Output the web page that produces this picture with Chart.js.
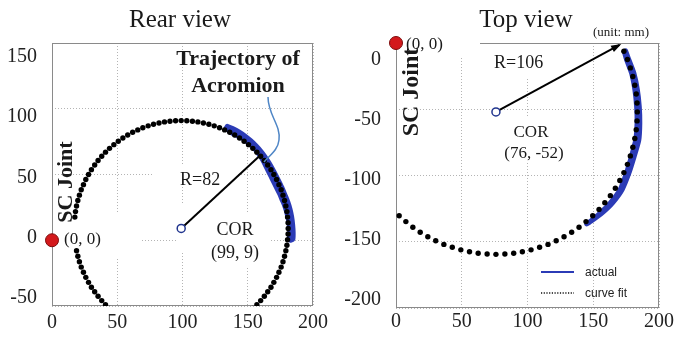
<!DOCTYPE html>
<html><head><meta charset="utf-8">
<script src="https://cdn.jsdelivr.net/npm/chart.js@4.4.1/dist/chart.umd.min.js"></script>
<style>
html,body{margin:0;padding:0;background:#fff;}
#wrap{position:relative;width:676px;height:338px;overflow:hidden;background:#fff;}
canvas{position:absolute;top:0;}
#c1{left:0;} #c2{left:338px;}
</style></head><body>
<div id="wrap"><canvas id="c1" width="338" height="338"></canvas><canvas id="c2" width="338" height="338"></canvas></div>
<script>
// ---------- data ----------
const xTicks = [0, 50, 100, 150, 200];
const rearYTicks = [-50, 0, 50, 100, 150];
const topYTicks = [-200, -150, -100, -50, 0];

const scJoint = [0, 0];
const rearCOR = [99, 9];
const rearRadiusEnd = [159, 64];
const topCOR = [76, -52];
const topRadiusEnd = [170, -1.5];

const rearFitPoints = [[44.1,-51.9],[41.0,-49.0],[38.1,-45.9],[35.3,-42.6],[32.7,-39.2],[30.2,-35.7],[28.0,-32.0],[25.9,-28.2],[24.1,-24.3],[22.4,-20.4],[21.0,-16.3],[19.8,-12.2],[18.8,-8.0],
[17.5,17.6],[18.0,21.8],[18.8,26.0],[19.8,30.2],[21.0,34.3],[22.4,38.4],[24.1,42.3],[25.9,46.2],[28.0,50.0],[30.2,53.7],[32.7,57.2],[35.3,60.6],[38.1,63.9],[41.0,67.0],[44.1,69.9],[47.4,72.7],[50.8,75.3],[54.3,77.8],[58.0,80.0],[61.8,82.1],[65.7,83.9],[69.6,85.6],[73.7,87.0],[77.8,88.2],[82.0,89.2],[86.2,90.0],[90.4,90.5],[94.7,90.9],[99.0,91.0],[103.3,90.9],[107.6,90.5],[111.8,90.0],[116.0,89.2],[120.2,88.2],[124.3,87.0],[128.4,85.6],[132.3,83.9],[136.2,82.1],[140.0,80.0],[143.7,77.8],[147.2,75.3],[150.6,72.7],[153.9,69.9],[157.0,67.0],[159.9,63.9],[162.7,60.6],[165.3,57.2],[167.8,53.7],[170.0,50.0],[172.1,46.2],[173.9,42.3],[175.6,38.4],[177.0,34.3],[178.2,30.2],[179.2,26.0],[180.0,21.8],[180.5,17.6],[180.9,13.3],[181.0,9.0],[180.9,4.7],[180.5,0.4],[180.0,-3.8],[179.2,-8.0],[178.2,-12.2],[177.0,-16.3],[175.6,-20.4],[173.9,-24.3],[172.1,-28.2],[170.0,-32.0],[167.8,-35.7],[165.3,-39.2],[162.7,-42.6],[159.9,-45.9],[157.0,-49.0],[153.9,-51.9]];

const rearActualPoints = [[133.9,85.2],[137.7,82.1],[142.0,79.9],[146.6,77.6],[150.5,74.5],[154.3,71.2],[157.0,68.2],[159.4,64.9],[161.5,61.8],[163.2,58.6],[165.1,54.8],[167.0,51.0],[169.0,47.1],[170.9,43.3],[172.8,39.5],[174.7,35.7],[176.6,31.2],[178.5,26.8],[180.0,22.3],[181.1,17.9],[182.0,13.6],[182.4,9.4],[182.6,5.5],[182.3,0.5],
[184.2,1.0],[184.4,6.0],[184.0,12.0],[183.2,18.0],[182.0,23.5],[180.3,29.0],[178.3,34.0],[176.2,39.0],[173.8,44.0],[171.3,49.0],[168.6,54.0],[165.8,58.8],[162.8,63.4],[159.6,67.6],[156.0,71.6],[152.0,75.4],[147.8,78.8],[143.0,82.0],[138.2,84.6],[134.5,86.2]];

const topFitPoints = [[173.3,-6.2],[176.0,-12.4],[178.2,-18.8],[180.1,-25.3],[181.6,-31.9],[182.7,-38.5],[183.3,-45.3],[183.5,-52.0],[183.3,-58.8],[182.7,-65.5],[181.6,-72.1],[180.1,-78.7],[178.2,-85.2],[176.0,-91.6],[173.3,-97.8],[170.2,-103.8],[166.8,-109.6],[163.0,-115.2],[158.8,-120.5],[154.4,-125.6],[149.6,-130.4],[144.5,-134.8],[139.2,-139.0],[133.6,-142.8],[127.8,-146.2],[121.8,-149.3],[115.6,-152.0],[109.2,-154.2],[102.7,-156.1],[96.1,-157.6],[89.5,-158.7],[82.8,-159.3],[76.0,-159.5],[69.3,-159.3],[62.5,-158.7],[55.9,-157.6],[49.3,-156.1],[42.8,-154.2],[36.4,-152.0],[30.2,-149.3],[24.2,-146.2],[18.4,-142.8],[12.8,-139.0],[7.5,-134.8],[2.4,-130.4]];

const topActualPoints = [[173.6,-6.5],[175.4,-12.8],[179.2,-22.9],[181.7,-35.5],[183.0,-48.1],[183.3,-60.6],[182.3,-73.2],[179.0,-85.8],[175.2,-98.3],[170.3,-110.9],[162.7,-121.0],[155.1,-128.5],[147.5,-134.9],[145.0,-136.6],
[145.5,-136.2],[149.0,-134.0],[157.0,-128.0],[164.5,-120.8],[172.0,-110.5],[177.0,-98.5],[181.0,-86.0],[184.6,-73.5],[185.4,-60.5],[185.0,-48.0],[183.5,-35.0],[180.8,-22.5],[176.8,-12.0],[174.6,-6.0]];

// ---------- helpers ----------
const SERIF = '"Liberation Serif", "Times New Roman", serif';
Chart.defaults.font.family = SERIF;
const toXY = arr => arr.map(p => ({x: p[0], y: p[1]}));
const GRID = '#b4b4b4';
const TXT = '#1a1a1a';

function txt(ctx, s, x, y, font, align, color) {
  ctx.font = font; ctx.textAlign = align || 'left'; ctx.textBaseline = 'alphabetic';
  ctx.fillStyle = color || TXT; ctx.fillText(s, x, y);
}
function vtxt(ctx, s, x, y, font) {
  ctx.save(); ctx.translate(x, y); ctx.rotate(-Math.PI / 2);
  txt(ctx, s, 0, 0, font, 'center'); ctx.restore();
}

function annotPlugin(masks, draw) {
  return {
    id: 'annot',
    beforeDatasetsDraw(chart) {
      const ctx = chart.ctx, a = chart.chartArea;
      ctx.save();
      ctx.strokeStyle = '#8a8a8a'; ctx.lineWidth = 1;
      ctx.strokeRect(Math.round(a.left) + 0.5, Math.round(a.top) + 0.5, Math.round(a.right - a.left) - 1, Math.round(a.bottom - a.top) - 1);
      ctx.fillStyle = '#fff';
      masks.forEach(m => ctx.fillRect(m[0], m[1], m[2], m[3]));
      ctx.restore();
    },
    afterDatasetsDraw(chart) { const ctx = chart.ctx; ctx.save(); draw(chart, ctx); ctx.restore(); }
  };
}

function makeScales(yMin, yMax, yTicks, lblMin, lblMax, yW, xH, xPad) {
  const tickFont = {family: SERIF, size: 20};
  return {
    x: {type: 'linear', min: 0, max: 200,
        afterBuildTicks: s => { s.ticks = xTicks.map(v => ({value: v})); },
        grid: {color: GRID, drawTicks: false, lineWidth: 1},
        border: {display: false, dash: [1, 2]},
        ticks: {font: tickFont, color: '#222', padding: xPad},
        afterFit: s => { s.height = xH; }},
    y: {type: 'linear', position: 'left', weight: 0, min: yMin, max: yMax,
        afterBuildTicks: s => { s.ticks = yTicks.map(v => ({value: v})); },
        grid: {color: GRID, drawTicks: false, lineWidth: 1},
        border: {display: false, dash: [1, 2]},
        ticks: {display: false},
        afterFit: s => { s.width = 0; }},
    yl: {type: 'linear', position: 'left', weight: 1, min: lblMin, max: lblMax,
        afterBuildTicks: s => { s.ticks = yTicks.map(v => ({value: v})); },
        grid: {display: false}, border: {display: false},
        ticks: {font: tickFont, color: '#222', padding: 7},
        afterFit: s => { s.width = yW; }}
  };
}

function makeDatasets(fit, actual, cor, rEnd, bandW) {
  const base = {xAxisID: 'x', yAxisID: 'y'};
  return [
    Object.assign({label: 'SC joint', data: toXY([scJoint]), pointRadius: 6.5, backgroundColor: '#d3191c', borderColor: '#7d0c0c', borderWidth: 1, clip: false, order: 0}, base),
    Object.assign({label: 'COR', data: toXY([cor]), pointRadius: 4, backgroundColor: '#ffffff', borderColor: '#22368f', borderWidth: 1.5, clip: false, order: 1}, base),
    Object.assign({label: 'curve fit', data: toXY(fit), pointRadius: 2.7, backgroundColor: '#000', borderWidth: 0, clip: 0, order: 2}, base),
    Object.assign({label: 'radius', data: toXY([cor, rEnd]), showLine: true, borderColor: '#000', borderWidth: 2, pointRadius: 0, clip: false, order: 3}, base),
    Object.assign({label: 'actual', data: toXY(actual), showLine: true, borderColor: '#2b3bb6', borderWidth: bandW, pointRadius: 0, tension: 0.2, borderJoinStyle: 'round', borderCapStyle: 'round', clip: 0, order: 4}, base)
  ];
}

const common = {responsive: false, animation: false, events: [],
  plugins: {legend: {display: false}, tooltip: {enabled: false}, title: {display: false}}};

// ---------- Rear view ----------
new Chart(document.getElementById('c1'), {
  type: 'scatter',
  data: {datasets: makeDatasets(rearFitPoints, rearActualPoints, rearCOR, rearRadiusEnd, 6)},
  options: Object.assign({}, common, {
    layout: {padding: {left: 0, right: 25, top: 43, bottom: 0}},
    scales: makeScales(-50, 150, rearYTicks, -56.6, 161.6, 52, 32, 5)
  }),
  plugins: [annotPlugin(
    [[56, 213, 84, 44], [178, 203, 11, 50], [189, 212, 81, 54], [152, 166, 84, 20]],
    (chart, ctx) => {
      txt(ctx, 'Rear view', 180, 27, '25px ' + SERIF, 'center');
      txt(ctx, 'Trajectory of', 238, 65, 'bold 22px ' + SERIF, 'center');
      txt(ctx, 'Acromion', 238, 92, 'bold 22px ' + SERIF, 'center');
      txt(ctx, 'R=82', 180, 185, '18px ' + SERIF, 'left');
      txt(ctx, 'COR', 235, 235, '18px ' + SERIF, 'center');
      txt(ctx, '(99, 9)', 235, 258, '18px ' + SERIF, 'center');
      txt(ctx, '(0, 0)', 64, 244, '17px ' + SERIF, 'left');
      vtxt(ctx, 'SC Joint', 71.5, 182, 'bold 22px ' + SERIF);
      ctx.strokeStyle = '#4f86c6'; ctx.lineWidth = 1.5;
      ctx.beginPath(); ctx.moveTo(268, 97);
      ctx.bezierCurveTo(268, 115, 281, 125, 279, 140);
      ctx.bezierCurveTo(278, 150, 270, 155, 264, 162);
      ctx.stroke();
    })]
});

// ---------- Top view ----------
new Chart(document.getElementById('c2'), {
  type: 'scatter',
  data: {datasets: makeDatasets(topFitPoints, topActualPoints, topCOR, topRadiusEnd, 5)},
  options: Object.assign({}, common, {
    layout: {padding: {left: 0, right: 17, top: 43, bottom: 0}},
    scales: makeScales(-200, 0, topYTicks, -206.7, 14.2, 58, 30, 2)
  }),
  plugins: [annotPlugin(
    [[59, 28, 83, 30], [152, 46, 58, 32], [157, 118, 80, 45]],
    (chart, ctx) => {
      const xs = chart.scales.x, ys = chart.scales.y;
      const x0 = xs.getPixelForValue(topCOR[0]), y0 = ys.getPixelForValue(topCOR[1]);
      const x1 = xs.getPixelForValue(topRadiusEnd[0]), y1 = ys.getPixelForValue(topRadiusEnd[1]);
      const ang = Math.atan2(y1 - y0, x1 - x0);
      ctx.fillStyle = '#000';
      ctx.beginPath(); ctx.moveTo(x1 + 2 * Math.cos(ang), y1 + 2 * Math.sin(ang));
      ctx.lineTo(x1 - 9 * Math.cos(ang - 0.4), y1 - 9 * Math.sin(ang - 0.4));
      ctx.lineTo(x1 - 9 * Math.cos(ang + 0.4), y1 - 9 * Math.sin(ang + 0.4));
      ctx.closePath(); ctx.fill();

      txt(ctx, 'Top view', 188, 27, '25px ' + SERIF, 'center');
      txt(ctx, '(unit: mm)', 283, 36, '13px ' + SERIF, 'center');
      txt(ctx, 'R=106', 156, 68, '18px ' + SERIF, 'left');
      txt(ctx, 'COR', 193, 137, '17px ' + SERIF, 'center');
      txt(ctx, '(76, -52)', 196, 158, '17px ' + SERIF, 'center');
      txt(ctx, '(0, 0)', 68, 49, '17px ' + SERIF, 'left');
      vtxt(ctx, 'SC Joint', 80, 92, 'bold 24px ' + SERIF);

      // legend
      ctx.strokeStyle = '#2b3bb6'; ctx.lineWidth = 2;
      ctx.beginPath(); ctx.moveTo(203, 272); ctx.lineTo(236, 272); ctx.stroke();
      ctx.strokeStyle = '#111'; ctx.lineWidth = 1.5; ctx.setLineDash([1.2, 1.5]);
      ctx.beginPath(); ctx.moveTo(203, 293); ctx.lineTo(236, 293); ctx.stroke();
      ctx.setLineDash([]);
      txt(ctx, 'actual', 247, 276, '12px "Liberation Sans", Arial, sans-serif', 'left', '#222');
      txt(ctx, 'curve fit', 247, 297, '12px "Liberation Sans", Arial, sans-serif', 'left', '#222');
    })]
});
</script></body></html>
